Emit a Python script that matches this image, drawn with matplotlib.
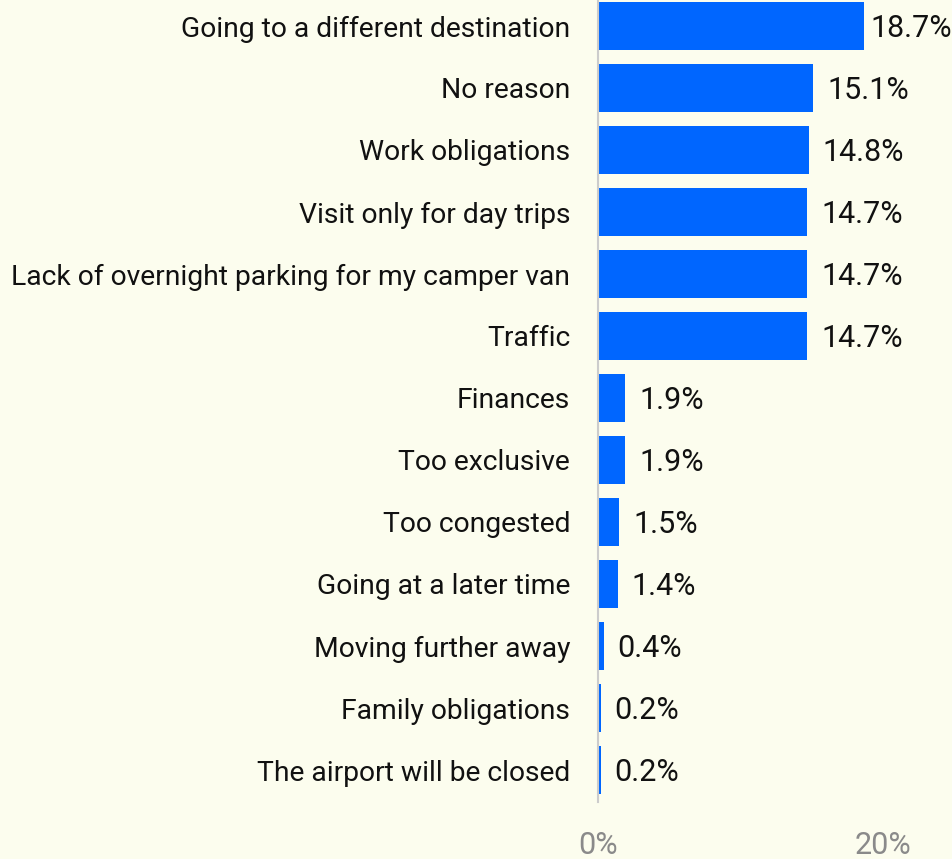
import matplotlib
matplotlib.use('Agg')
import matplotlib.pyplot as plt

# data
categories = [
    'Going to a different destination',
    'No reason',
    'Work obligations',
    'Visit only for day trips',
    'Lack of overnight parking for my camper van',
    'Traffic',
    'Finances',
    'Too exclusive',
    'Too congested',
    'Going at a later time',
    'Moving further away',
    'Family obligations',
    'The airport will be closed',
]
values = [18.7, 15.1, 14.8, 14.7, 14.7, 14.7, 1.9, 1.9, 1.5, 1.4, 0.4, 0.2, 0.2]
tick_values = [0, 20]
tick_labels = ['0%', '20%']

bg = '#fcfdee'
bar_color = '#0066ff'

plt.rcParams['font.family'] = ['Roboto', 'DejaVu Sans']

fig = plt.figure(figsize=(9.53, 8.59), dpi=100, facecolor=bg)
ax = fig.add_axes([598/953, 57/859, 355/953, 802/859])
ax.set_facecolor(bg)

ypos = list(range(len(categories)))
ax.barh(ypos, values, height=0.77, color=bar_color)

ax.set_xlim(0, 355/14.25)
ax.set_ylim(12.516, -0.419)

# value labels
for i in range(len(values)):
    off = 10
    if values[i] > 18:
        off = 4
    ax.annotate('%.1f%%' % values[i], xy=(values[i], i), xytext=(off, -2),
                textcoords='offset points', ha='left', va='center',
                fontsize=22, color='#111111')

ax.set_yticks(ypos)
ax.set_yticklabels(categories, fontsize=20.3, color='#111111')
ax.set_xticks(tick_values)
ax.set_xticklabels(tick_labels, fontsize=22, color='#8a8a8a')
ax.tick_params(axis='y', length=0, pad=20)
ax.tick_params(axis='x', length=0, pad=21)

for s in ['top', 'right', 'bottom']:
    ax.spines[s].set_visible(False)
ax.spines['left'].set_color('#cccccc')
ax.spines['left'].set_linewidth(1.5)

fig.savefig('out.png', dpi=100, facecolor=bg)
